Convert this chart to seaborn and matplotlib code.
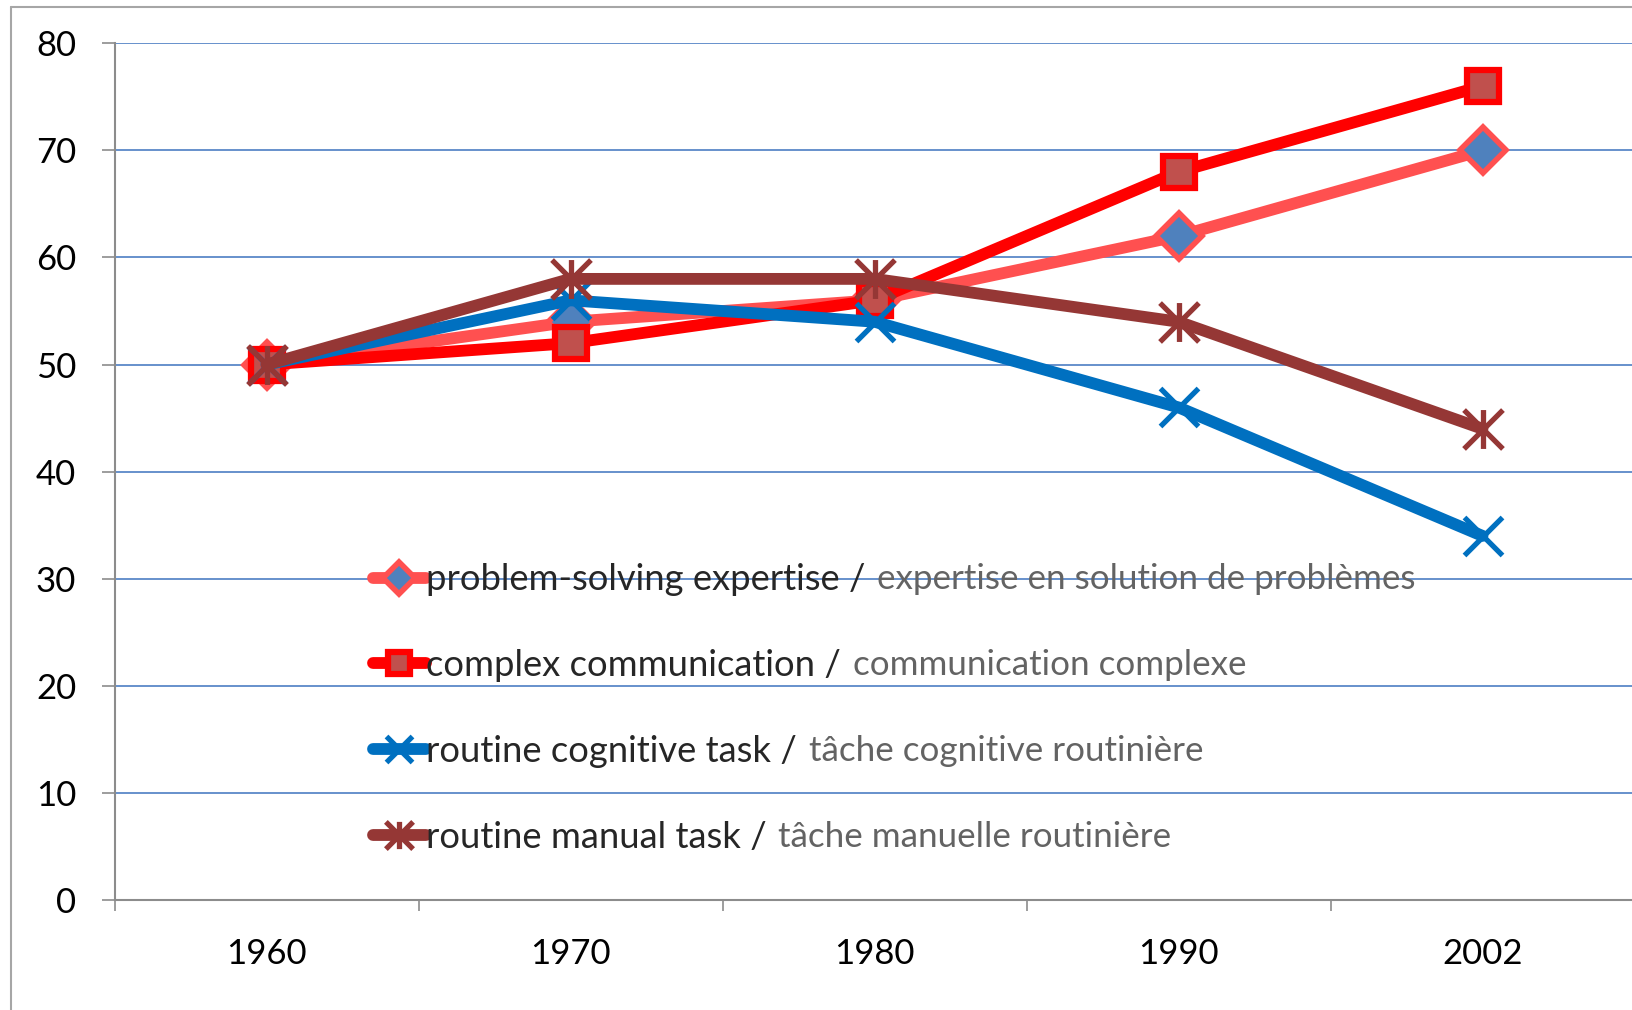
import matplotlib.pyplot as plt
import seaborn as sns
from matplotlib.path import Path
from matplotlib.lines import Line2D

# data
years = ["1960", "1970", "1980", "1990", "2002"]
problem_solving = [50, 54, 56, 62, 70]
complex_comm = [50, 52, 56, 68, 76]
routine_cognitive = [50, 56, 54, 46, 34]
routine_manual = [50, 58, 58, 54, 44]

labels_en = ["problem-solving expertise", "complex communication",
             "routine cognitive task", "routine manual task"]
labels_fr = ["expertise en solution de problèmes", "communication complexe",
             "tâche cognitive routinière", "tâche manuelle routinière"]

sns.set_style("white")
plt.rcParams["font.family"] = ["Lato", "DejaVu Sans"]

# excel style asterisk: an X with a vertical bar
asterisk = Path([(0, -1), (0, 1), (-1, -1), (1, 1), (-1, 1), (1, -1)],
                [Path.MOVETO, Path.LINETO] * 3)

fig = plt.figure(figsize=(16.32, 10.10), dpi=100)
ax = fig.add_axes([114.5 / 1632, 110 / 1010, 1520 / 1632, 856.7 / 1010])

lw = 8.5
series = [
    (problem_solving, "#FF5050", dict(marker="D", markersize=23, markerfacecolor="#4F81BD",
                                      markeredgecolor="#FF5050", markeredgewidth=4)),
    (complex_comm, "#FF0000", dict(marker="s", markersize=23, markerfacecolor="#C0504D",
                                   markeredgecolor="#FF0000", markeredgewidth=4.5)),
    (routine_cognitive, "#0070C0", dict(marker="x", markersize=27, markeredgecolor="#0070C0",
                                        markeredgewidth=3.8)),
    (routine_manual, "#953735", dict(marker=asterisk, markersize=28, markeredgecolor="#953735",
                                     markerfacecolor="#953735", markeredgewidth=3.8)),
]
for i, (vals, col, mk) in enumerate(series):
    sns.lineplot(x=years, y=vals, ax=ax, color=col, linewidth=lw, errorbar=None,
                 label=labels_en[i] + " /", zorder=3 + i, solid_joinstyle="miter", **mk)

ax.set_xlim(-0.5, 4.5)
ax.set_ylim(0, 80)
ax.set_yticks(range(0, 81, 10))
ax.set_xticks(range(len(years)))
ax.set_xticklabels(years)
ax.set_xticks([x - 0.5 for x in range(len(years) + 1)], minor=True)
ax.set_xlabel("")
ax.set_ylabel("")

ax.yaxis.grid(True, color="#5B88C8", linewidth=1.3)
ax.set_axisbelow(True)
for s in ["top", "right"]:
    ax.spines[s].set_visible(False)
for s in ["left", "bottom"]:
    ax.spines[s].set_color("#8C8C8C")
    ax.spines[s].set_linewidth(1.5)

ax.tick_params(axis="y", which="major", left=True, length=9.5, width=1.2, color="#8C8C8C",
               pad=18, labelsize=25, labelcolor="black")
ax.tick_params(axis="x", which="major", bottom=True, length=0, pad=27,
               labelsize=25, labelcolor="black")
ax.tick_params(axis="x", which="minor", bottom=True, length=8, width=1.2, color="#8C8C8C")

# legend: english part black, french part grey next to it
handles, labs = ax.get_legend_handles_labels()
leg = ax.legend(handles, labs, loc="upper left", bbox_to_anchor=(0.17, 0.393),
                frameon=False, fontsize=26.2, handlelength=1.45, handletextpad=0.0,
                labelspacing=1.45, borderpad=0, borderaxespad=0, markerscale=0.7)
fig.canvas.draw()
for txt, fr in zip(leg.get_texts(), labels_fr):
    ax.annotate(fr, xy=(1, 0), xycoords=txt, xytext=(12, 1), textcoords="offset pixels",
                ha="left", va="bottom", fontsize=25.2, color="#636363", zorder=10)

# chart area frame (only top and left visible)
fig.add_artist(Line2D([11 / 1632, 11 / 1632], [0, 1 - 7 / 1010], color="#A6A6A6", lw=1.5))
fig.add_artist(Line2D([11 / 1632, 1], [1 - 7 / 1010, 1 - 7 / 1010], color="#A6A6A6", lw=1.5))

fig.savefig("out.png", dpi=100)
plt.close(fig)
